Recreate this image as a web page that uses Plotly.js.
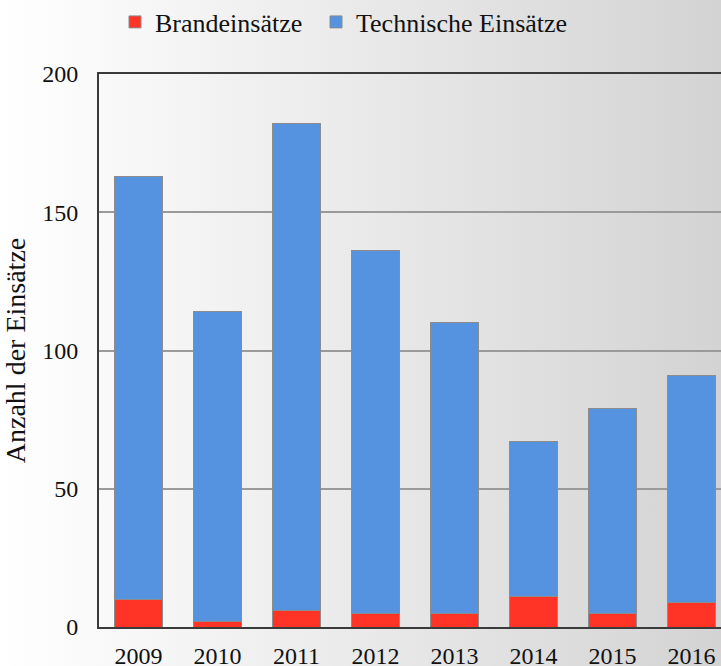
<!DOCTYPE html>
<html>
<head>
<meta charset="utf-8">
<script src="https://cdn.plot.ly/plotly-3.0.1.min.js"></script>
<style>
html, body { margin:0; padding:0; overflow:hidden; width:721px; height:666px;
  background: linear-gradient(to right, #ffffff 0%, #ececec 45%, #d3d3d3 100%); }
#chart { width:745px; height:666px; }
</style>
</head>
<body>
<div id="chart"></div>
<script>
const years = ["2009","2010","2011","2012","2013","2014","2015","2016"];
const brand = [10, 2, 6, 5, 5, 11, 5, 9];
const technisch = [153, 112, 176, 131, 105, 56, 74, 82];
const yTicks = [0, 50, 100, 150, 200];

const fontFam = "'Liberation Serif', 'DejaVu Serif', serif";
const traces = [
  { type:'bar', name:'Brandeinsätze', x:years, y:brand, legend:'legend',
    marker:{ color:'#ff3326', line:{ color:'#8c8c8c', width:1 } } },
  { type:'bar', name:'Technische Einsätze', x:years, y:technisch, legend:'legend2',
    marker:{ color:'#5592e0', line:{ color:'#8c8c8c', width:1 } } }
];
const legFont = { size:26, family:fontFam, color:'#111' };
const layout = {
  width:745, height:666,
  barmode:'stack', bargap:0.38,
  paper_bgcolor:'rgba(0,0,0,0)', plot_bgcolor:'rgba(0,0,0,0)',
  margin:{ l:99, r:14, t:74, b:39 },
  font:{ family:fontFam, color:'#111', size:24 },
  showlegend:true,
  legend:{ orientation:'h', xref:'container', yref:'container',
    x:115/745, y:1-22/666, xanchor:'left', yanchor:'middle',
    font:legFont, itemwidth:30, bgcolor:'rgba(0,0,0,0)' },
  legend2:{ orientation:'h', xref:'container', yref:'container',
    x:316/745, y:1-22/666, xanchor:'left', yanchor:'middle',
    font:legFont, itemwidth:30, bgcolor:'rgba(0,0,0,0)' },
  xaxis:{ type:'category', showline:true, linecolor:'#3a3a3a', linewidth:2, mirror:true,
    ticks:'', ticklabelstandoff:6, tickfont:{ size:24 } },
  yaxis:{ range:[0,200], tickvals:yTicks, showline:true, linecolor:'#3a3a3a', linewidth:2, mirror:true,
    showgrid:true, gridcolor:'#9a9a9a', gridwidth:2, zeroline:false, ticks:'',
    ticklabelstandoff:14, tickfont:{ size:24 },
    title:{ text:'Anzahl der Einsätze', font:{ size:28 }, standoff:14 } }
};
Plotly.newPlot('chart', traces, layout, { displayModeBar:false, staticPlot:true });
</script>
</body>
</html>
